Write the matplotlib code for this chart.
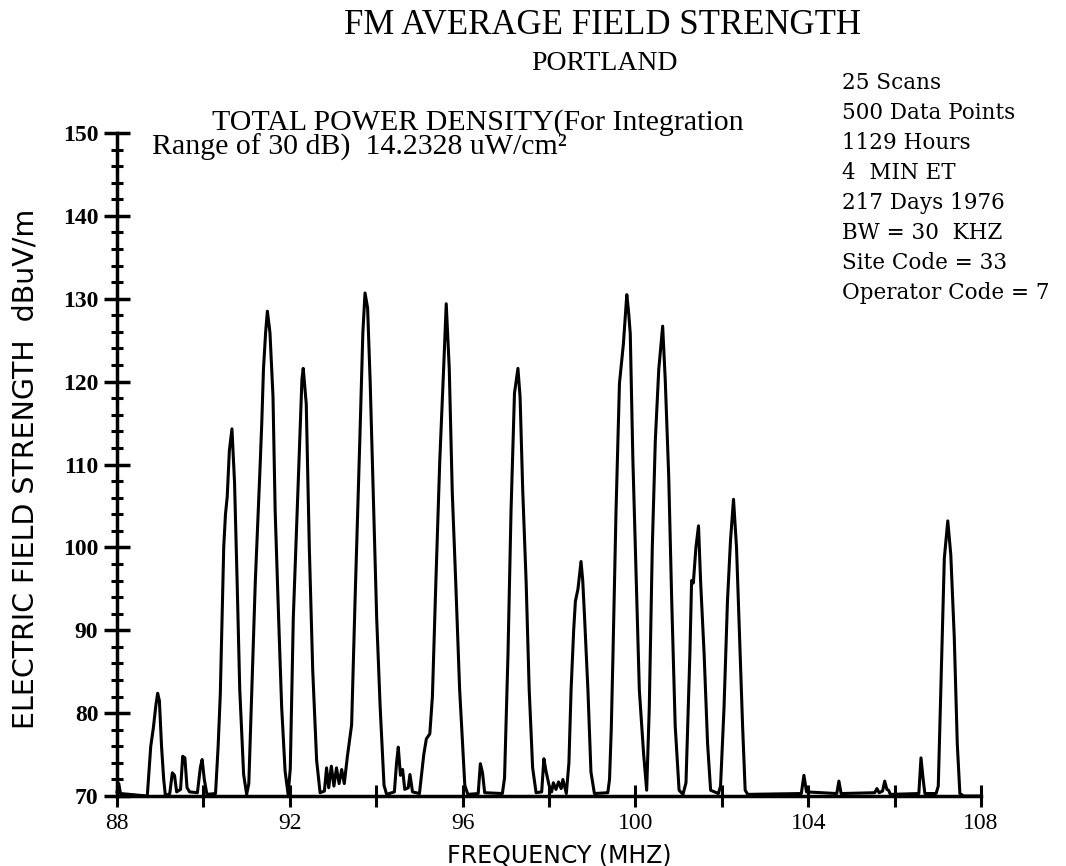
import matplotlib
matplotlib.use('Agg')
import matplotlib.pyplot as plt
from matplotlib.ticker import MultipleLocator

# FM band scan, Portland
freq_mhz = [
    88.00, 88.04, 88.08, 88.70, 88.78, 88.84, 88.90, 88.94, 88.98, 89.03, 89.08, 89.12,
    89.22, 89.28, 89.33, 89.38, 89.47, 89.52, 89.57, 89.62, 89.68, 89.86, 89.93, 89.97, 90.02, 90.08,
    90.28, 90.34, 90.39, 90.47, 90.51, 90.55, 90.60, 90.66, 90.72, 90.78, 90.84, 90.93, 91.00,
    91.05, 91.12, 91.20, 91.31, 91.35, 91.39, 91.44, 91.48, 91.54, 91.61, 91.66, 91.74, 91.81, 91.89, 91.96,
    92.01, 92.08, 92.14, 92.20, 92.28, 92.31, 92.38, 92.45, 92.53, 92.62, 92.70,
    92.80, 92.85, 92.90, 92.96, 93.02, 93.08, 93.14, 93.20, 93.26, 93.33,
    93.43, 93.51, 93.57, 93.62, 93.69, 93.74, 93.80, 93.86, 93.93, 94.01, 94.09, 94.18, 94.24,
    94.42, 94.47, 94.51, 94.56, 94.61, 94.66, 94.74, 94.78, 94.84, 95.00,
    95.05, 95.10, 95.16, 95.24, 95.30, 95.38, 95.47, 95.56, 95.62, 95.69, 95.76, 95.84, 95.93, 96.05, 96.12,
    96.36, 96.41, 96.46, 96.51,
    96.92, 96.97, 97.05, 97.12, 97.17, 97.20, 97.28, 97.33, 97.39, 97.47, 97.54, 97.62, 97.70,
    97.83, 97.88, 97.93, 98.00, 98.06, 98.10, 98.16, 98.22, 98.28, 98.32, 98.40,
    98.46, 98.51, 98.57, 98.61, 98.67, 98.74, 98.78, 98.82, 98.90, 98.97, 99.05,
    99.36, 99.40, 99.44, 99.48, 99.55, 99.63, 99.72, 99.80, 99.84, 99.88, 99.94, 100.02, 100.09, 100.19, 100.26,
    100.32, 100.39, 100.46, 100.54, 100.63, 100.69, 100.77, 100.84, 100.92, 101.01, 101.10,
    101.17, 101.26, 101.30, 101.34, 101.40, 101.46, 101.51, 101.59, 101.67, 101.74,
    101.92, 101.97, 102.05, 102.13, 102.20, 102.27, 102.34, 102.41, 102.48, 102.54, 102.60,
    103.84, 103.90, 103.96, 104.66, 104.71, 104.76, 105.54, 105.59, 105.64, 105.72, 105.77, 105.82, 105.86, 105.90, 106.56, 106.61, 106.66, 106.70,
    106.96, 107.01, 107.09, 107.15, 107.23, 107.30, 107.38, 107.45, 107.51, 107.60, 108.00,
]
level_dbuv = [
    70.5, 71.5, 70.3, 70.0, 76.0, 78.2, 81.0, 82.4, 81.5, 76.0, 72.0, 70.0,
    70.3, 72.8, 72.5, 70.5, 70.8, 74.8, 74.6, 71.0, 70.5, 70.4, 73.5, 74.4, 72.0, 70.2,
    70.3, 76.0, 82.3, 100.1, 104.0, 106.1, 111.7, 114.3, 107.8, 95.8, 82.9, 72.6, 70.2,
    71.5, 82.9, 95.8, 109.6, 115.0, 121.6, 126.0, 128.5, 125.9, 118.2, 104.4, 91.5, 80.8, 73.0, 70.2,
    73.3, 91.5, 100.0, 108.7, 120.3, 121.6, 117.3, 100.1, 85.1, 74.3, 70.4,
    70.6, 73.4, 71.0, 73.6, 71.2, 73.4, 71.5, 73.2, 71.5, 74.7,
    78.6, 93.7, 104.0, 113.0, 125.9, 130.7, 128.9, 119.9, 106.6, 91.5, 80.8, 71.3, 70.2,
    70.5, 74.0, 75.9, 72.5, 73.2, 70.8, 71.0, 72.6, 70.5, 70.3,
    72.6, 75.0, 76.9, 77.5, 82.0, 95.8, 110.4, 121.6, 129.4, 121.6, 106.6, 95.8, 82.9, 71.3, 70.2,
    70.3, 73.9, 72.8, 70.4,
    70.3, 72.2, 87.2, 104.4, 113.0, 118.6, 121.6, 118.1, 107.0, 95.8, 82.9, 73.4, 70.4,
    70.5, 74.5, 73.0, 71.3, 70.5, 71.6, 70.8, 71.7, 70.9, 72.0, 70.3,
    74.0, 82.8, 90.0, 93.5, 95.0, 98.3, 96.0, 91.8, 82.8, 72.9, 70.3,
    70.4, 72.0, 78.0, 87.1, 104.3, 119.8, 124.5, 130.5, 128.5, 125.8, 110.7, 95.7, 82.8, 75.0, 70.7,
    80.6, 100.0, 112.9, 121.5, 126.7, 120.2, 108.6, 93.5, 78.5, 70.7, 70.2,
    71.6, 87.1, 96.0, 95.7, 100.0, 102.6, 95.7, 87.1, 76.3, 70.7,
    70.3, 71.2, 80.6, 93.5, 100.8, 105.8, 100.0, 89.2, 78.5, 70.7, 70.2,
    70.3, 72.5, 70.5, 70.3, 71.8, 70.3, 70.4, 70.9, 70.4, 70.6, 71.8, 70.8, 70.7, 70.2, 70.3, 74.6, 72.0, 70.3,
    70.3, 71.2, 87.1, 98.7, 103.2, 99.1, 89.2, 76.3, 70.3, 70.0, 70.0,
]

scan_info = ['25 Scans', '500 Data Points', '1129 Hours', '4  MIN ET',
             '217 Days 1976', 'BW = 30  KHZ', 'Site Code = 33', 'Operator Code = 7']

x_ticks = [88, 92, 96, 100, 104, 108]
y_ticks = [70, 80, 90, 100, 110, 120, 130, 140, 150]

serif = ['Liberation Serif', 'DejaVu Serif']
wide_serif = ['DejaVu Serif']
sans = ['DejaVu Sans']

fig = plt.figure(figsize=(10.66, 8.66), dpi=100)
ax = fig.add_axes([0.1098, 0.0808, 0.8105, 0.7656])

ax.plot(freq_mhz, level_dbuv, color='black', lw=2.2, clip_on=False, zorder=3)

ax.set_xlim(88, 108)
ax.set_ylim(70, 150)
ax.spines['top'].set_visible(False)
ax.spines['right'].set_visible(False)
ax.spines['left'].set_linewidth(2.5)
ax.spines['bottom'].set_linewidth(2.5)

ax.set_xticks(x_ticks)
ax.xaxis.set_minor_locator(MultipleLocator(2))
ax.set_yticks(y_ticks)
ax.yaxis.set_minor_locator(MultipleLocator(2))
ax.tick_params(axis='x', which='both', direction='inout', length=16, width=2.2, pad=4)
ax.tick_params(axis='y', which='major', direction='inout', length=19, width=2.5, pad=4)
ax.tick_params(axis='y', which='minor', direction='inout', length=9, width=2.2)
for lab in ax.get_xticklabels():
    lab.set_family(serif)
    lab.set_fontsize(17)
for lab in ax.get_yticklabels():
    lab.set_family(serif)
    lab.set_fontsize(17)
    lab.set_fontweight('bold')

ax.set_xlabel('FREQUENCY (MHZ)', family=sans, fontsize=17)
ax.xaxis.set_label_coords(0.512, -0.072)
fig.text(0.024, 0.458, 'ELECTRIC FIELD STRENGTH  dBuV/m', family=sans, fontsize=20.5,
         rotation=90, ha='center', va='center')

# titles and notes
fig.text(0.565, 0.970, 'FM AVERAGE FIELD STRENGTH', family=serif, fontsize=25,
         ha='center', va='center')
fig.text(0.567, 0.927, 'PORTLAND', family=serif, fontsize=20, ha='center', va='center')
fig.text(0.199, 0.859, 'TOTAL POWER DENSITY(For Integration', family=serif, fontsize=21.5,
         ha='left', va='center')
fig.text(0.143, 0.830, 'Range of 30 dB)  14.2328 uW/cm²', family=serif, fontsize=21.5,
         ha='left', va='center')

y0 = 1 - 83 / 866
for i, line in enumerate(scan_info):
    fig.text(0.790, y0 - i * 30 / 866, line, family=wide_serif, fontsize=15.5,
             ha='left', va='center')

plt.savefig('out.png', dpi=100)
plt.close()
